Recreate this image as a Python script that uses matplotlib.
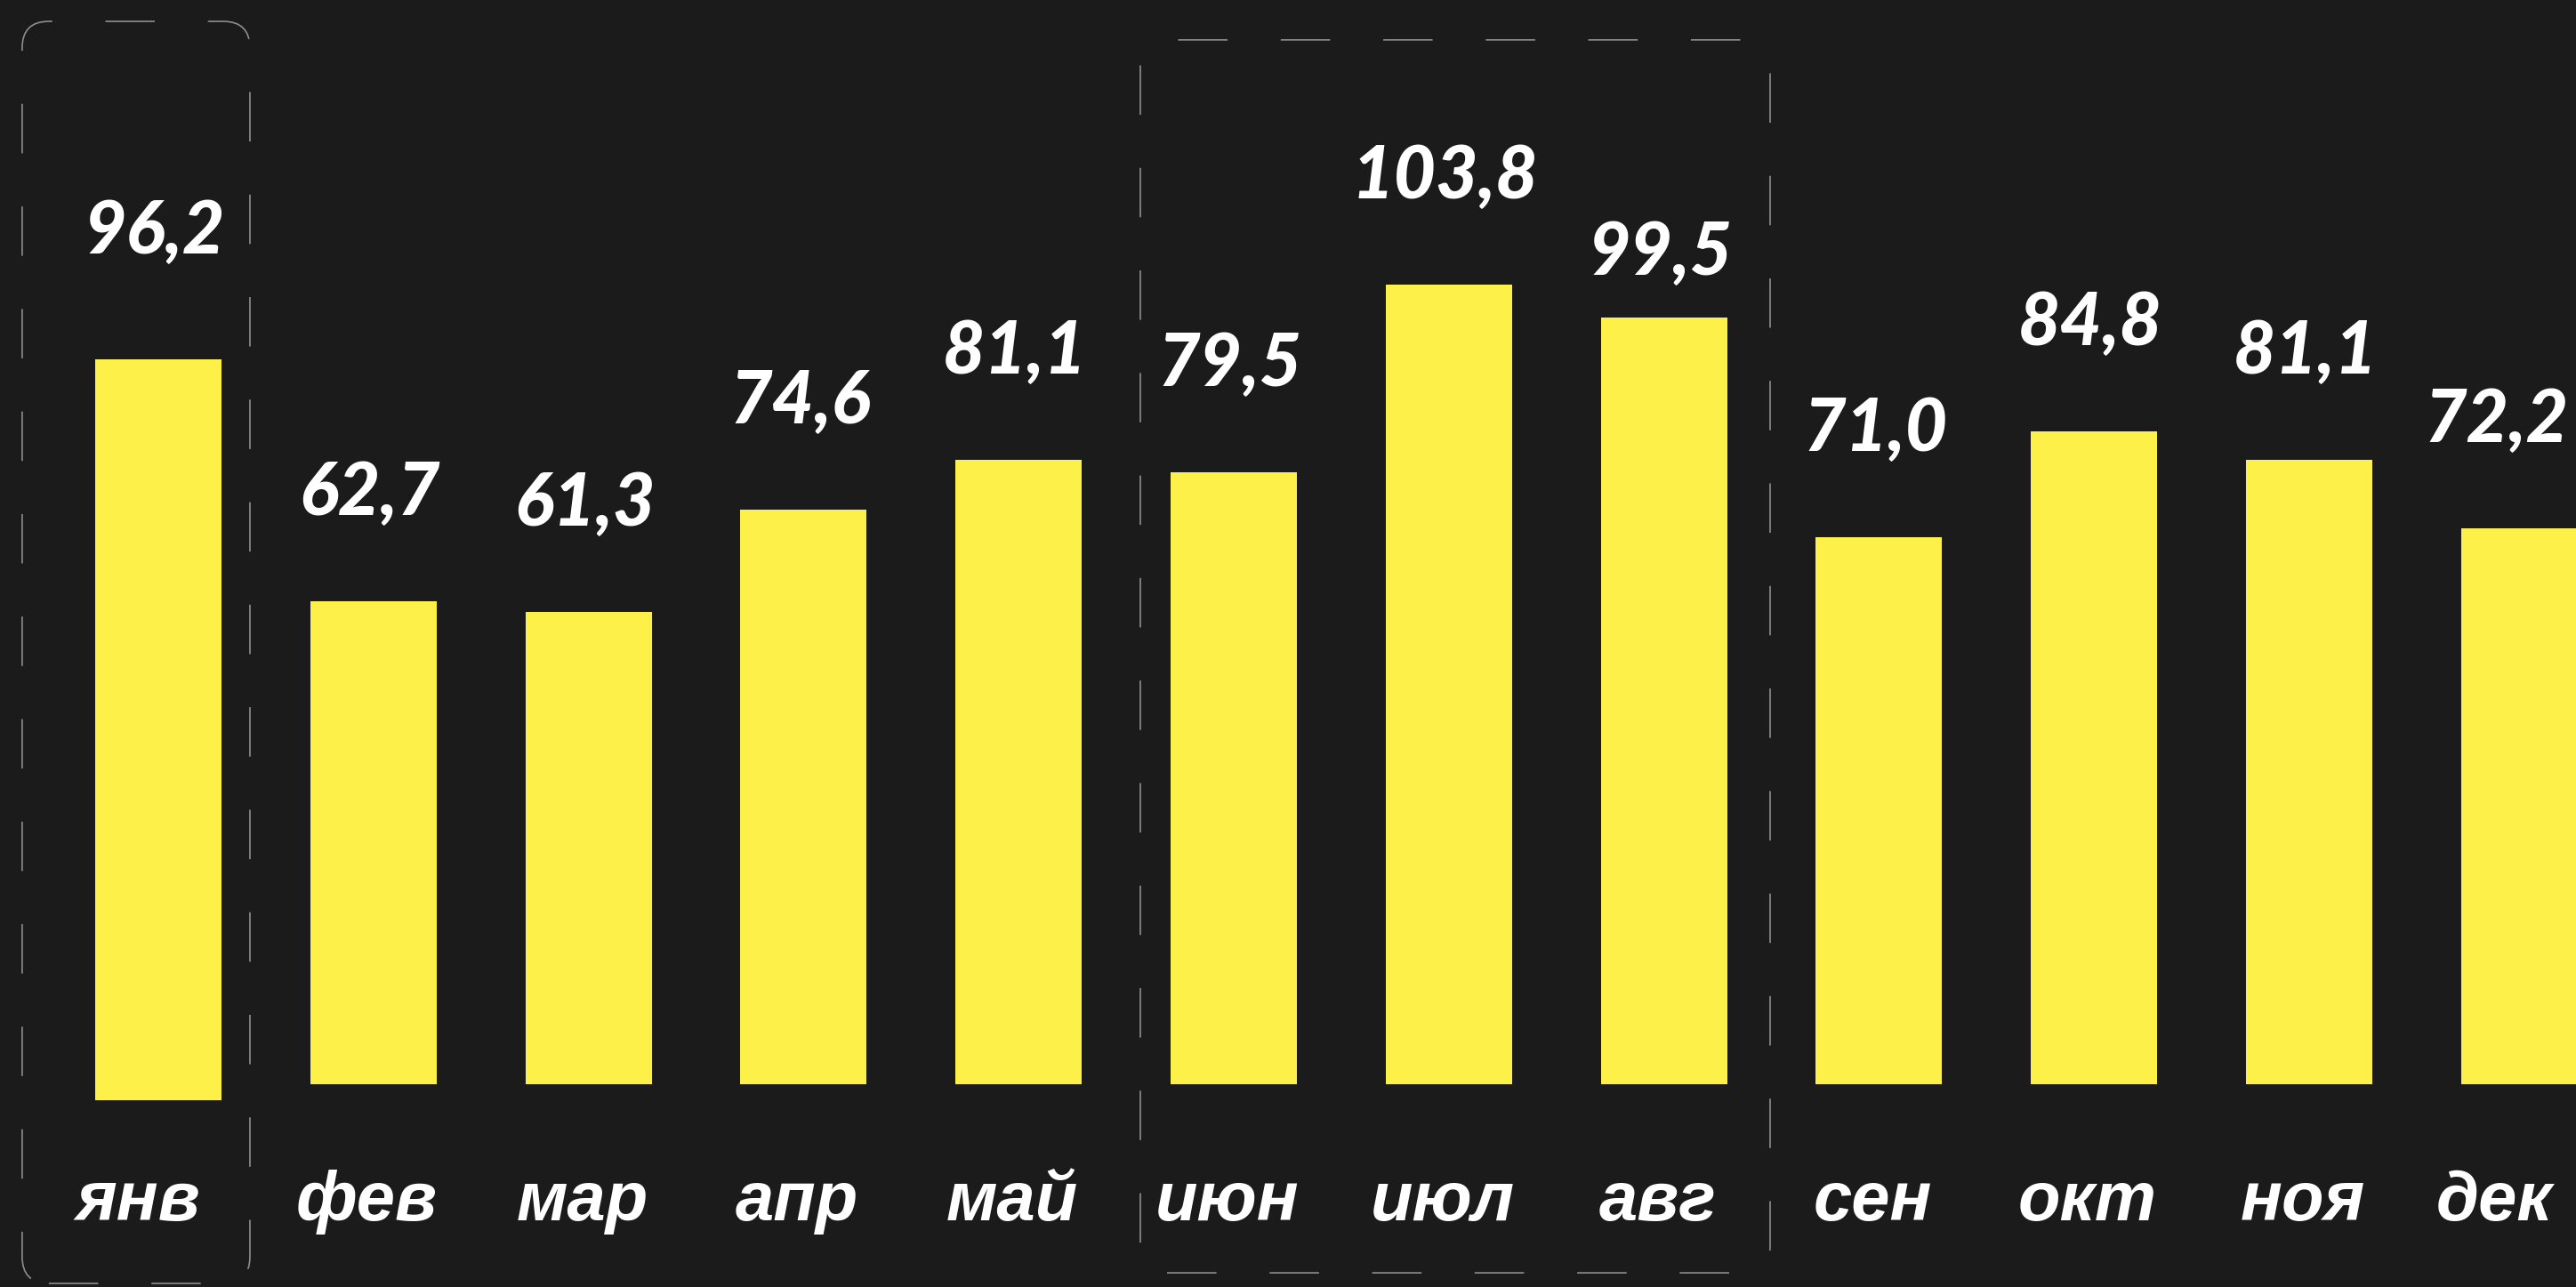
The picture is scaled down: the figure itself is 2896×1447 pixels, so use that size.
import matplotlib.pyplot as plt
from matplotlib.patches import FancyBboxPatch
from matplotlib.transforms import IdentityTransform, blended_transform_factory

# data
months = ['янв', 'фев', 'мар', 'апр', 'май', 'июн', 'июл', 'авг', 'сен', 'окт', 'ноя', 'дек']
values = [96.2, 62.7, 61.3, 74.6, 81.1, 79.5, 103.8, 99.5, 71.0, 84.8, 81.1, 72.2]
value_labels = [f'{v:.1f}'.replace('.', ',') for v in values]
highlight_groups = [(0, 0), (5, 7)]  # first and last month index of each dashed frame

BG = '#1b1b1b'
YELLOW = '#fdf048'
FRAME = '#8e8e8e'

plt.rcParams['lines.scale_dashes'] = False

fig = plt.figure(figsize=(28.96, 14.47), dpi=100, facecolor=BG)
ax = fig.add_axes([0, 0, 1, 1])
ax.set_facecolor(BG)
ax.axis('off')
ax.set_xlim(-0.736, 11.241)
ax.set_ylim(-26.33, 140.76)

x = list(range(len(months)))
bottoms = [0.0] * len(values)
bottoms[0] = -2.1  # the january bar sits a little lower in the original
ax.bar(x, values, width=0.587, bottom=bottoms, color=YELLOW, linewidth=0)

# value labels above bars
label_offsets = {0: 85.7, 7: 35.0}
label_nudge = {11: -0.11}
for i, (v, b, lab) in enumerate(zip(values, bottoms, value_labels)):
    ax.annotate(lab, (i + label_nudge.get(i, 0), v + b),
                xytext=(-3, label_offsets.get(i, 69.8)),
                textcoords='offset points', ha='center', va='baseline',
                fontsize=59, family='Lato', fontweight='black', fontstyle='italic',
                color='white')

# month labels
xt = blended_transform_factory(ax.transData, ax.transAxes)
month_nudge = {0: -0.095, 11: -0.14}
for i, m in enumerate(months):
    ax.text(i + month_nudge.get(i, -0.03), 0.0518, m, transform=xt,
            ha='center', va='baseline', fontsize=56,
            family=['Liberation Sans', 'DejaVu Sans'], fontweight='bold',
            fontstyle='italic', color='white')

# dashed rounded frames around highlighted months
frame_specs = [(-0.633, 0.426, 0.0028, 0.9834), (-0.434, 0.494, 0.011, 0.969)]
for (first, last), (pl, pr, fy0, fy1) in zip(highlight_groups, frame_specs):
    x0 = ax.transData.transform((first + pl, 0))[0]
    x1 = ax.transData.transform((last + pr, 0))[0]
    y0 = ax.transAxes.transform((0, fy0))[1]
    y1 = ax.transAxes.transform((0, fy1))[1]
    box = FancyBboxPatch((x0, y0), x1 - x0, y1 - y0,
                         boxstyle='round,pad=0,rounding_size=30',
                         transform=IdentityTransform(), facecolor='none',
                         edgecolor=FRAME, linewidth=1.2,
                         linestyle=(0, (40, 43)), clip_on=False)
    fig.add_artist(box)

fig.savefig('out.png', dpi=100, facecolor=BG)
